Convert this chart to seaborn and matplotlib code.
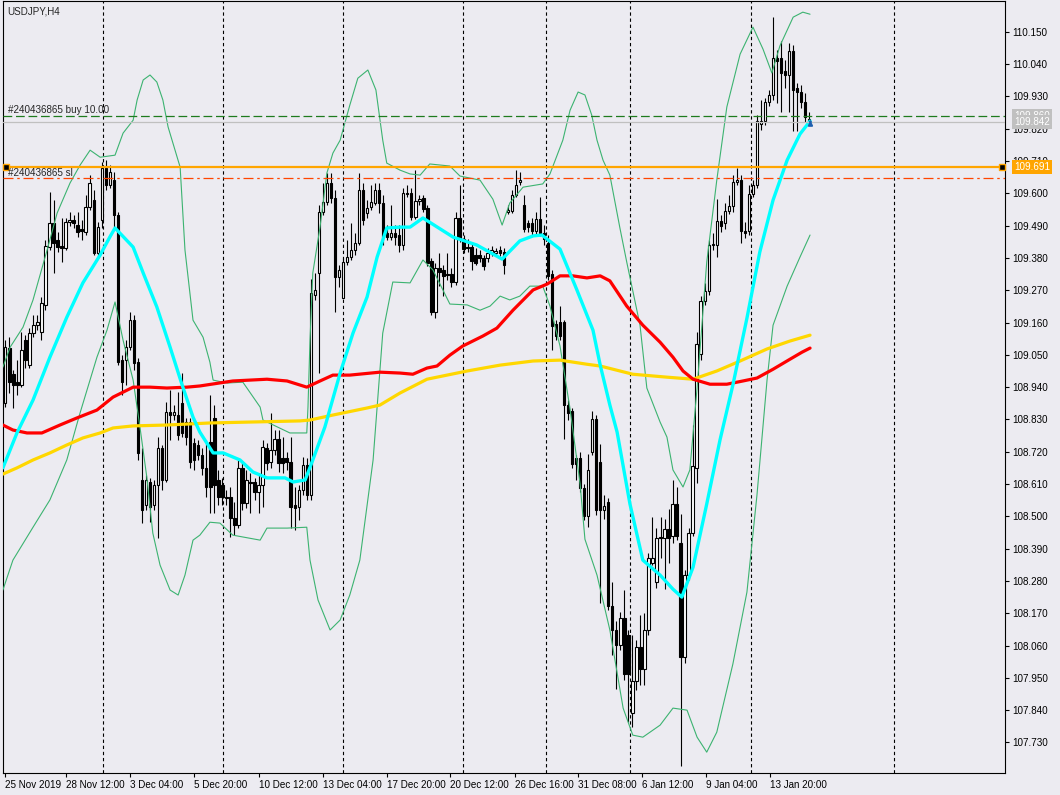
import matplotlib
matplotlib.use("Agg")
import matplotlib.pyplot as plt
import pandas as pd
import seaborn as sns

# ---- USDJPY H4 candles (prices) ----
opens = [
    108.886, 109.073, 108.984, 108.957, 108.947, 109.100, 109.015, 109.124, 109.151, 109.127,
    109.220, 109.417, 109.499, 109.441, 109.421, 109.414, 109.502, 109.509, 109.492, 109.479,
    109.468, 109.553, 109.577, 109.397, 109.509, 109.686, 109.628, 109.645, 109.526, 109.032,
    109.032, 109.076, 109.168, 109.025, 108.624, 108.539, 108.617, 108.539, 108.607, 108.733,
    108.624, 108.855, 108.845, 108.845, 108.886, 108.821, 108.821, 108.750, 108.743, 108.709,
    108.665, 108.753, 108.835, 108.624, 108.607, 108.566, 108.566, 108.494, 108.470, 108.665,
    108.546, 108.617, 108.617, 108.583, 108.607, 108.733, 108.685, 108.726, 108.764, 108.699,
    108.699, 108.685, 108.539, 108.532, 108.590, 108.675, 108.573, 109.254, 109.329, 109.536,
    109.570, 109.635, 109.584, 109.315, 109.244, 109.366, 109.383, 109.407, 109.431, 109.611,
    109.533, 109.553, 109.567, 109.611, 109.567, 109.465, 109.451, 109.465, 109.458, 109.424,
    109.601, 109.601, 109.519, 109.573, 109.584, 109.550, 109.370, 109.196, 109.346, 109.339,
    109.325, 109.325, 109.298, 109.516, 109.445, 109.417, 109.417, 109.390, 109.390, 109.380,
    109.380, 109.397, 109.397, 109.407, 109.400, 109.536, 109.540, 109.594, 109.638, 109.560,
    109.499, 109.499, 109.472, 109.512, 109.465, 109.431, 109.325, 109.155, 109.161, 109.161,
    108.879, 108.859, 108.699, 108.699, 108.597, 108.501, 108.719, 108.831, 108.685, 108.521,
    108.549, 108.195, 108.113, 108.062, 108.154, 108.096, 107.830, 107.940, 108.055, 107.980,
    108.113, 108.341, 108.276, 108.429, 108.426, 108.457, 108.433, 108.542, 108.409, 108.021,
    108.300, 108.443, 108.665, 109.053, 109.233, 109.268, 109.424, 109.424, 109.506, 109.499,
    109.540, 109.557, 109.638, 109.645, 109.472, 109.472, 109.597, 109.628, 109.836, 109.846,
    109.911, 109.935, 110.061, 110.061, 110.017, 110.003, 110.085, 109.959, 109.945, 109.911,
    109.853,
]
highs = [
    109.100, 109.110, 108.998, 109.032, 109.127, 109.117, 109.141, 109.185, 109.185, 109.247,
    109.441, 109.604, 109.577, 109.468, 109.516, 109.516, 109.536, 109.526, 109.536, 109.509,
    109.594, 109.662, 109.611, 109.502, 109.706, 109.713, 109.696, 109.672, 109.536, 109.049,
    109.100, 109.196, 109.185, 109.039, 108.733, 108.641, 108.631, 108.624, 108.770, 108.743,
    108.889, 108.930, 108.879, 108.923, 108.988, 108.835, 108.835, 108.767, 108.760, 108.733,
    108.760, 108.913, 108.879, 108.658, 108.631, 108.590, 108.600, 108.549, 108.692, 108.685,
    108.658, 108.648, 108.631, 108.648, 108.760, 108.750, 108.852, 108.794, 108.794, 108.770,
    108.719, 108.770, 108.600, 108.607, 108.702, 108.699, 109.309, 109.329, 109.560, 109.635,
    109.669, 109.669, 109.611, 109.356, 109.380, 109.441, 109.499, 109.465, 109.669, 109.635,
    109.577, 109.628, 109.635, 109.635, 109.594, 109.492, 109.560, 109.492, 109.492, 109.618,
    109.628, 109.618, 109.679, 109.594, 109.594, 109.560, 109.380, 109.363, 109.397, 109.356,
    109.397, 109.346, 109.536, 109.628, 109.458, 109.445, 109.431, 109.414, 109.407, 109.390,
    109.414, 109.421, 109.414, 109.421, 109.414, 109.560, 109.611, 109.679, 109.672, 109.594,
    109.509, 109.516, 109.536, 109.587, 109.492, 109.458, 109.339, 109.168, 109.216, 109.168,
    108.896, 108.869, 108.709, 108.719, 108.610, 108.712, 108.859, 108.845, 108.747, 108.573,
    108.562, 108.276, 108.144, 108.174, 108.249, 108.113, 108.096, 108.079, 108.164, 108.171,
    108.375, 108.498, 108.460, 108.498, 108.491, 108.525, 108.624, 108.600, 108.508, 108.317,
    108.460, 108.811, 109.127, 109.250, 109.295, 109.441, 109.465, 109.580, 109.526, 109.567,
    109.594, 109.662, 109.686, 109.662, 109.502, 109.628, 109.645, 109.866, 109.918, 109.925,
    109.952, 110.200, 110.088, 110.119, 110.054, 110.112, 110.105, 109.976, 109.969, 109.942,
    109.877,
]
lows = [
    108.872, 108.920, 108.869, 108.913, 108.940, 109.005, 109.005, 109.110, 109.134, 109.100,
    109.202, 109.407, 109.329, 109.400, 109.366, 109.407, 109.489, 109.482, 109.451, 109.441,
    109.458, 109.543, 109.390, 109.380, 109.482, 109.611, 109.618, 109.485, 109.015, 108.913,
    108.947, 109.066, 108.998, 108.692, 108.477, 108.521, 108.480, 108.521, 108.426, 108.590,
    108.617, 108.760, 108.828, 108.760, 108.770, 108.743, 108.665, 108.658, 108.692, 108.641,
    108.566, 108.511, 108.511, 108.539, 108.539, 108.539, 108.429, 108.436, 108.460, 108.521,
    108.528, 108.511, 108.556, 108.511, 108.532, 108.658, 108.665, 108.709, 108.651, 108.648,
    108.658, 108.460, 108.453, 108.487, 108.573, 108.556, 108.556, 109.237, 108.988, 109.526,
    109.560, 109.567, 109.196, 109.281, 109.244, 109.356, 109.373, 109.390, 109.424, 109.492,
    109.516, 109.543, 109.560, 109.533, 109.424, 109.441, 109.441, 109.424, 109.400, 109.407,
    109.588, 109.509, 109.512, 109.560, 109.536, 109.352, 109.185, 109.175, 109.284, 109.250,
    109.305, 109.281, 109.288, 109.434, 109.397, 109.400, 109.339, 109.356, 109.366, 109.339,
    109.366, 109.387, 109.390, 109.387, 109.325, 109.529, 109.533, 109.588, 109.628, 109.468,
    109.468, 109.455, 109.462, 109.455, 109.424, 109.305, 109.066, 109.100, 109.100, 108.764,
    108.828, 108.665, 108.624, 108.583, 108.487, 108.463, 108.709, 108.504, 108.205, 108.491,
    108.181, 108.028, 107.912, 108.045, 107.943, 107.799, 107.782, 107.909, 107.926, 107.926,
    108.096, 108.334, 108.256, 108.358, 108.252, 108.341, 108.409, 108.419, 107.650, 108.001,
    108.283, 108.433, 108.614, 109.032, 109.220, 109.254, 109.407, 109.383, 109.468, 109.479,
    109.529, 109.536, 109.628, 109.431, 109.448, 109.458, 109.587, 109.618, 109.815, 109.832,
    109.897, 109.918, 109.908, 109.877, 109.959, 109.877, 109.812, 109.812, 109.890, 109.843,
    109.832,
]
closes = [
    109.076, 108.957, 108.947, 108.947, 109.066, 109.032, 109.124, 109.151, 109.161, 109.226,
    109.421, 109.499, 109.431, 109.417, 109.414, 109.502, 109.509, 109.499, 109.468, 109.472,
    109.553, 109.635, 109.397, 109.485, 109.686, 109.628, 109.672, 109.526, 109.025, 108.957,
    109.076, 109.168, 109.022, 108.716, 108.521, 108.624, 108.532, 108.607, 108.733, 108.624,
    108.855, 108.845, 108.855, 108.777, 108.784, 108.770, 108.685, 108.692, 108.709, 108.665,
    108.600, 108.600, 108.607, 108.566, 108.566, 108.563, 108.494, 108.470, 108.665, 108.546,
    108.624, 108.614, 108.583, 108.607, 108.736, 108.682, 108.726, 108.764, 108.682, 108.682,
    108.685, 108.532, 108.528, 108.590, 108.675, 108.573, 109.261, 109.271, 109.536, 109.570,
    109.635, 109.584, 109.315, 109.339, 109.366, 109.383, 109.407, 109.431, 109.611, 109.509,
    109.550, 109.570, 109.611, 109.567, 109.451, 109.451, 109.465, 109.451, 109.424, 109.601,
    109.597, 109.519, 109.573, 109.580, 109.546, 109.363, 109.196, 109.346, 109.332, 109.319,
    109.322, 109.298, 109.516, 109.445, 109.410, 109.414, 109.370, 109.363, 109.380, 109.353,
    109.397, 109.407, 109.404, 109.397, 109.356, 109.543, 109.594, 109.628, 109.645, 109.479,
    109.485, 109.472, 109.512, 109.465, 109.445, 109.319, 109.148, 109.114, 109.114, 108.879,
    108.852, 108.678, 108.678, 108.597, 108.501, 108.658, 108.831, 108.521, 108.521, 108.535,
    108.195, 108.113, 108.062, 108.154, 107.963, 107.963, 107.940, 108.055, 107.980, 108.113,
    108.358, 108.358, 108.426, 108.426, 108.457, 108.426, 108.542, 108.433, 108.021, 108.300,
    108.443, 108.671, 109.087, 109.233, 109.268, 109.424, 109.427, 109.506, 109.489, 109.540,
    109.557, 109.638, 109.645, 109.472, 109.465, 109.597, 109.628, 109.846, 109.846, 109.911,
    109.935, 110.061, 110.051, 110.010, 110.003, 110.085, 109.952, 109.945, 109.911, 109.860,
    109.842,
]

# ---- indicator lines (bar position, price) ----
fast_ma_bar = [-0.6, 2.9, 6.9, 11.1, 15.3, 19.3, 23.6, 26.0, 27.3, 31.8,
               34.3, 37.7, 41.0, 44.0, 46.7, 48.4, 51.7, 54.2, 58.4, 61.6,
               65.1, 69.6, 71.6, 74.6, 76.5, 79.5, 83.3, 86.5, 90.0, 92.5,
               94.9, 98.2, 100.7, 103.9, 111.4, 117.3, 123.6, 128.0, 131.3, 133.5,
               138.0, 142.2, 146.2, 148.0, 150.4, 152.2, 155.4, 158.6, 162.9, 166.1,
               168.3, 171.1, 174.5, 177.8, 181.0, 184.5, 187.7, 191.0, 194.5, 197.7, 200.2]
fast_ma = [108.665, 108.784, 108.896, 109.042, 109.178, 109.295, 109.390, 109.451, 109.482, 109.417,
           109.329, 109.213, 109.076, 108.947, 108.838, 108.787, 108.716, 108.716, 108.692, 108.651,
           108.631, 108.631, 108.617, 108.624, 108.692, 108.804, 108.988, 109.124, 109.247, 109.383,
           109.482, 109.485, 109.485, 109.516, 109.451, 109.424, 109.376, 109.438, 109.455, 109.458,
           109.410, 109.271, 109.134, 109.015, 108.879, 108.787, 108.542, 108.351, 108.300, 108.252,
           108.225, 108.327, 108.542, 108.760, 108.947, 109.175, 109.400, 109.577, 109.713, 109.802, 109.846]

mid_ma_bar = [-0.6, 1.9, 5.4, 9.1, 13.6, 17.8, 22.8, 26.8, 31.8, 36.0,
              40.2, 45.2, 48.4, 56.6, 65.1, 70.1, 75.0, 78.3, 81.5, 85.7,
              93.2, 98.2, 101.4, 104.9, 107.4, 110.6, 113.8, 118.8, 122.3, 126.3,
              131.3, 134.8, 138.0, 141.2, 144.7, 148.0, 150.4, 154.6, 158.6, 162.9,
              166.1, 168.6, 171.1, 175.3, 179.5, 183.5, 187.0, 191.0, 195.2, 198.2, 200.2]
mid_ma = [108.811, 108.794, 108.784, 108.784, 108.811, 108.835, 108.862, 108.906, 108.940, 108.940,
          108.937, 108.940, 108.944, 108.961, 108.967, 108.961, 108.940, 108.961, 108.981, 108.981,
          108.991, 108.988, 108.984, 109.005, 109.012, 109.049, 109.080, 109.114, 109.141, 109.202,
          109.271, 109.291, 109.319, 109.319, 109.312, 109.319, 109.302, 109.216, 109.151, 109.093,
          109.042, 108.995, 108.967, 108.950, 108.950, 108.961, 108.971, 109.001, 109.035, 109.059, 109.073]

slow_ma_bar = [-0.6, 2.9, 6.9, 11.1, 15.3, 19.3, 23.6, 26.8, 31.8, 40.2,
               50.9, 73.3, 75.8, 81.5, 90.0, 93.2, 98.2, 104.9, 114.9, 123.1,
               131.3, 138.0, 144.7, 148.0, 156.1, 164.6, 171.1, 177.0, 182.8, 189.5,
               195.2, 200.2]
slow_ma = [108.644, 108.665, 108.692, 108.716, 108.743, 108.767, 108.784, 108.801, 108.808, 108.811,
           108.818, 108.825, 108.828, 108.845, 108.869, 108.879, 108.920, 108.967, 108.995, 109.015,
           109.029, 109.032, 109.018, 109.012, 108.984, 108.974, 108.967, 108.995, 109.029, 109.070,
           109.097, 109.117]

band_up_bar = [-0.6, 1.2, 4.4, 6.9, 10.4, 12.9, 16.1, 18.6, 21.1, 23.6,
               27.3, 29.3, 31.8, 32.8, 34.3, 36.0, 37.7, 39.2, 40.5, 43.5,
               44.7, 46.7, 49.2, 50.9, 51.7, 55.2, 59.1, 63.4, 64.1, 70.8,
               75.0, 75.3, 75.8, 76.5, 78.3, 80.0, 81.5, 83.3, 85.7, 87.7,
               90.2, 92.2, 93.9, 94.9, 98.2, 100.7, 103.2, 105.6, 110.6, 113.1,
               118.1, 121.3, 123.6, 125.5, 128.8, 133.7, 135.5, 137.2, 138.7, 140.5,
               142.5, 144.2, 145.9, 147.2, 148.7, 150.4, 152.9, 154.6, 157.9, 159.6,
               162.9, 164.6, 166.1, 168.6, 170.3, 172.1, 174.5, 177.0, 179.5, 182.8,
               186.0, 188.5, 190.7, 192.7, 196.0, 198.4, 200.2]
band_up = [109.008, 109.076, 109.144, 109.237, 109.407, 109.533, 109.635, 109.696, 109.747, 109.723,
           109.730, 109.805, 109.849, 109.918, 109.986, 110.003, 109.979, 109.918, 109.826, 109.689,
           109.407, 109.168, 109.110, 109.025, 108.964, 108.954, 108.957, 108.872, 108.828, 108.784,
           108.784, 108.872, 109.100, 109.329, 109.485, 109.669, 109.737, 109.781, 109.900, 109.992,
           110.020, 109.952, 109.781, 109.703, 109.679, 109.666, 109.662, 109.700, 109.693, 109.659,
           109.645, 109.580, 109.492, 109.567, 109.621, 109.632, 109.666, 109.727, 109.781, 109.883,
           109.945, 109.935, 109.866, 109.781, 109.713, 109.662, 109.482, 109.366, 109.151, 108.937,
           108.821, 108.770, 108.658, 108.600, 108.658, 108.937, 109.366, 109.645, 109.894, 110.074,
           110.166, 110.091, 110.010, 110.102, 110.200, 110.217, 110.210]

band_lo_bar = [-0.6, 1.9, 6.9, 11.1, 15.3, 18.6, 22.8, 25.3, 27.3, 29.3,
               31.8, 33.5, 35.2, 36.7, 38.5, 41.0, 43.0, 44.7, 46.7, 48.4,
               50.9, 53.4, 56.6, 63.4, 65.1, 70.1, 75.0, 75.8, 77.8, 80.8,
               83.3, 85.7, 88.2, 91.5, 93.9, 96.4, 100.7, 103.9, 106.4, 110.6,
               114.9, 118.1, 120.6, 123.1, 125.5, 128.0, 130.5, 133.7, 135.5, 138.0,
               140.5, 143.0, 144.2, 147.2, 150.4, 153.7, 156.1, 158.6, 162.9, 166.1,
               169.6, 172.1, 174.5, 177.0, 181.0, 184.5, 187.0, 189.5, 191.0, 194.5,
               197.7, 200.2]
band_lo = [108.249, 108.351, 108.463, 108.556, 108.692, 108.852, 109.042, 109.134, 109.230, 109.100,
           108.964, 108.804, 108.634, 108.443, 108.334, 108.249, 108.232, 108.300, 108.419, 108.436,
           108.480, 108.477, 108.436, 108.419, 108.460, 108.460, 108.463, 108.351, 108.215, 108.113,
           108.147, 108.232, 108.351, 108.692, 109.124, 109.298, 109.295, 109.373, 109.339, 109.223,
           109.220, 109.202, 109.216, 109.250, 109.237, 109.250, 109.284, 109.284, 109.216, 109.080,
           108.865, 108.610, 108.422, 108.300, 108.113, 107.847, 107.755, 107.748, 107.789, 107.847,
           107.840, 107.748, 107.697, 107.765, 107.997, 108.242, 108.573, 108.964, 109.151, 109.284,
           109.383, 109.458]

# ---- axis text ----
price_ticks = ["110.150", "110.040", "109.930", "109.820", "109.710", "109.600", "109.490",
               "109.380", "109.270", "109.160", "109.050", "108.940", "108.830", "108.720",
               "108.610", "108.500", "108.390", "108.280", "108.170", "108.060", "107.950",
               "107.840", "107.730"]
date_labels = ["25 Nov 2019", "28 Nov 12:00", "3 Dec 04:00", "5 Dec 20:00", "10 Dec 12:00",
               "13 Dec 04:00", "17 Dec 20:00", "20 Dec 12:00", "26 Dec 16:00", "31 Dec 08:00",
               "6 Jan 12:00", "9 Jan 04:00", "13 Jan 20:00"]
date_bars = [0, 15, 31, 47, 63, 79, 95, 110.6, 126.7, 142.5, 158.5, 174.3, 190.3]
separator_bars = [24.3, 54.2, 84.0, 113.9, 134.5, 155.4, 185.5, 221.0]

order_open = 109.865
bid_price = 109.842
trigger_price = 109.691
stop_loss = 109.651

BG = "#ECEBF1"
sns.set_style("white", {"axes.facecolor": BG, "figure.facecolor": BG,
                        "axes.edgecolor": "black"})
plt.rcParams["font.family"] = ["Liberation Sans", "DejaVu Sans"]
FS = 7.1

fig = plt.figure(figsize=(10.6, 7.95), dpi=100)
ax = fig.add_axes([3 / 1060, 1 - 773 / 795, 1002 / 1060, 772 / 795])

df = pd.DataFrame({"bar": range(len(closes)), "open": opens, "high": highs,
                   "low": lows, "close": closes})
up = df["close"] >= df["open"]

# period separators
for b in separator_bars:
    ax.axvline(b, color="black", lw=0.8, ls=(0, (3, 2.5)), zorder=1)

# candles
ax.vlines(df["bar"], df["low"], df["high"], color="black", lw=0.8, zorder=2)
ax.bar(df["bar"][up], (df["close"] - df["open"])[up], bottom=df["open"][up],
       width=0.6, color="white", edgecolor="black", lw=0.8, zorder=3)
ax.bar(df["bar"][~up], (df["open"] - df["close"])[~up], bottom=df["close"][~up],
       width=0.6, color="black", edgecolor="black", lw=0.8, zorder=3)

# indicators
sns.lineplot(x=band_up_bar, y=band_up, ax=ax, color="#3CB371", lw=0.8,
             estimator=None, sort=False, zorder=4)
sns.lineplot(x=band_lo_bar, y=band_lo, ax=ax, color="#3CB371", lw=0.8,
             estimator=None, sort=False, zorder=4)
sns.lineplot(x=slow_ma_bar, y=slow_ma, ax=ax, color="#FFD700", lw=2.3,
             estimator=None, sort=False, zorder=5)
sns.lineplot(x=mid_ma_bar, y=mid_ma, ax=ax, color="#FF0000", lw=2.3,
             estimator=None, sort=False, zorder=5)
sns.lineplot(x=fast_ma_bar, y=fast_ma, ax=ax, color="#00FFFF", lw=2.4,
             estimator=None, sort=False, zorder=6)

# order / price lines
ax.axhline(bid_price, color="#C0C0C0", lw=0.9, zorder=7)
ax.axhline(order_open, color="#1E7B1E", lw=0.9, ls=(0, (7, 3)), zorder=7)
ax.axhline(trigger_price, color="#FFA500", lw=1.6, zorder=7)
ax.axhline(stop_loss, color="#FF4500", lw=0.9, ls=(0, (8, 3, 2, 3)), zorder=7)

tr = ax.get_yaxis_transform()
ax.plot([0.003, 0.997], [trigger_price, trigger_price], transform=tr, ls="none",
        marker="s", ms=5, mfc="black", mec="#FFA500", mew=1, clip_on=False, zorder=8)
ax.annotate("", xy=(200.3, 109.858), xytext=(200.3, 109.834),
            arrowprops=dict(arrowstyle="-|>", color="#1F5FAF", lw=1.4,
                            mutation_scale=6), zorder=9)

ax.text(0.005, 109.873, "#240436865 buy 10.00", transform=tr, fontsize=FS,
        va="baseline", ha="left", zorder=9)
ax.text(0.005, 109.659, "#240436865 sl", transform=tr, fontsize=FS,
        va="baseline", ha="left", zorder=9)
ax.text(0.004, 0.9935, "USDJPY,H4", transform=ax.transAxes, fontsize=FS,
        va="top", ha="left", zorder=9)

# price boxes on the scale
for price, text, face in [(order_open, "109.860", "#C0C0C0"),
                          (bid_price, "109.842", "#C0C0C0"),
                          (trigger_price, "109.691", "#FFA500")]:
    ax.text(1.009, price, text, transform=tr, fontsize=FS, color="white",
            va="center", ha="left", clip_on=False, zorder=10,
            bbox=dict(boxstyle="square,pad=0.2", fc=face, ec="none"))

# axes
ax.set_xlim(-0.57, 248.7)
ax.set_ylim(107.626, 110.255)
ax.yaxis.tick_right()
ax.set_yticks([float(t) for t in price_ticks])
ax.set_yticklabels(price_ticks)
ax.set_xticks(date_bars)
ax.set_xticklabels(date_labels, ha="left")
ax.tick_params(axis="y", direction="out", length=3, width=0.8, pad=2.5,
               labelsize=FS, colors="black", right=True, left=False)
ax.tick_params(axis="x", direction="out", length=3, width=0.8, pad=2,
               labelsize=FS, colors="black", bottom=True)
ax.set_xlabel("")
ax.set_ylabel("")
for s in ax.spines.values():
    s.set_visible(True)
    s.set_color("black")
    s.set_linewidth(0.8)

fig.savefig("out.png", dpi=100, facecolor=BG)
